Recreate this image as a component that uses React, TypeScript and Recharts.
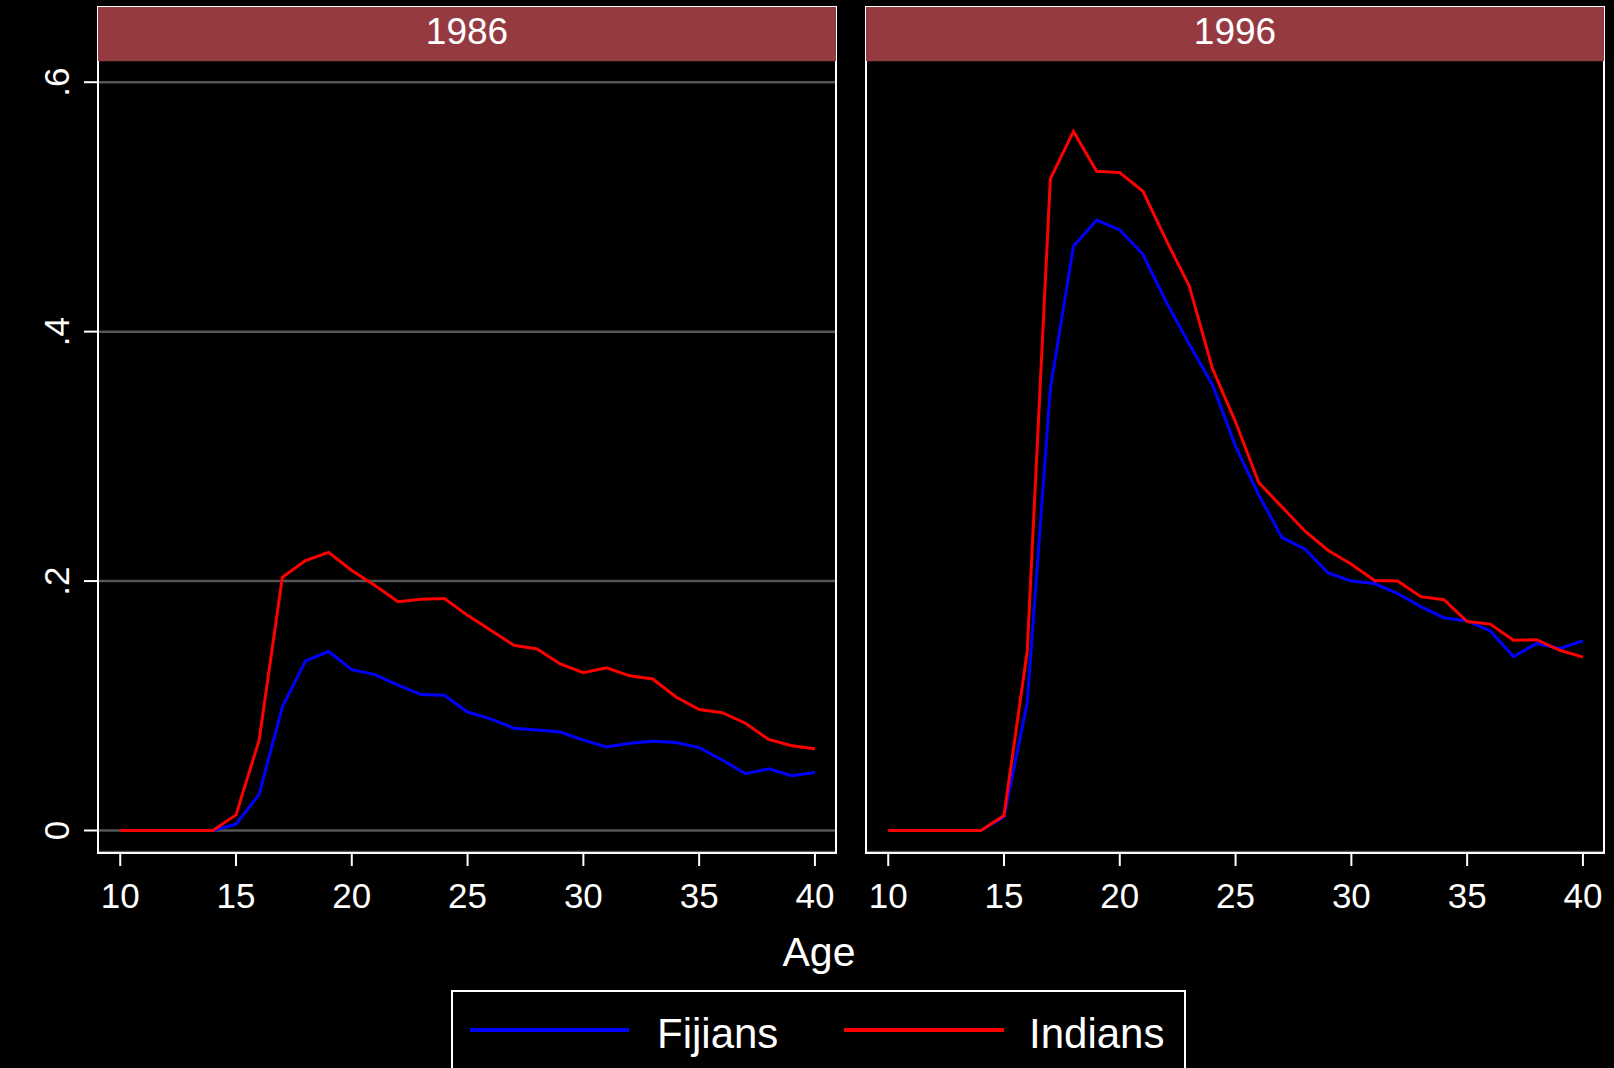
import React from "react";
import { LineChart, Line, XAxis, YAxis, CartesianGrid } from "recharts";

// ages on the x axis
const ages = [10, 11, 12, 13, 14, 15, 16, 17, 18, 19, 20, 21, 22, 23, 24, 25, 26, 27, 28, 29, 30, 31, 32, 33, 34, 35, 36, 37, 38, 39, 40];

// 1986 panel
const fijians1986 = [0, 0, 0, 0, 0, 0.005, 0.029, 0.099, 0.136, 0.1435, 0.129, 0.125, 0.1165, 0.109, 0.1085, 0.095, 0.0895, 0.082, 0.0805, 0.079, 0.0725, 0.067, 0.07, 0.0715, 0.0705, 0.0665, 0.0565, 0.0455, 0.0495, 0.044, 0.0465];
const indians1986 = [0, 0, 0, 0, 0, 0.0125, 0.0725, 0.203, 0.2165, 0.223, 0.2085, 0.1965, 0.1835, 0.1855, 0.186, 0.1725, 0.1605, 0.1485, 0.1455, 0.1335, 0.1265, 0.1305, 0.124, 0.1215, 0.107, 0.097, 0.0945, 0.086, 0.073, 0.068, 0.0655];

// 1996 panel
const fijians1996 = [0, 0, 0, 0, 0, 0.011, 0.102, 0.354, 0.4685, 0.4895, 0.4815, 0.462, 0.424, 0.39, 0.3575, 0.308, 0.269, 0.235, 0.2255, 0.2065, 0.2, 0.198, 0.19, 0.1795, 0.1705, 0.168, 0.16, 0.1395, 0.15, 0.146, 0.152];
const indians1996 = [0, 0, 0, 0, 0, 0.012, 0.1435, 0.5225, 0.5605, 0.5285, 0.5275, 0.5125, 0.4735, 0.4365, 0.3705, 0.3275, 0.279, 0.2595, 0.24, 0.2245, 0.2135, 0.2005, 0.2, 0.1875, 0.185, 0.1675, 0.1655, 0.1525, 0.153, 0.1445, 0.139];

const xTicks = [10, 15, 20, 25, 30, 35, 40];
const yTicks = [0, 0.2, 0.4, 0.6];
const yLabels = ["0", ".2", ".4", ".6"];

const FONT = '"Liberation Sans", Arial, Helvetica, sans-serif';
const STRIP = "#953a41";
const GRID = "#555555";

const rows = (f: number[], i: number[]) => ages.map((age, k) => ({ age, fijians: f[k], indians: i[k] }));

const XTick = (props: any) => {
  const { x, y, payload } = props;
  return (
    <text x={x} y={y + 40} textAnchor="middle" fill="#fff" fontSize={35} fontFamily={FONT}>
      {payload.value}
    </text>
  );
};

const YTick = (props: any) => {
  const { x, y, payload } = props;
  const idx = yTicks.indexOf(payload.value);
  const tx = x - 13;
  return (
    <text x={tx} y={y} transform={`rotate(-90 ${tx} ${y})`} textAnchor="middle" fill="#fff" fontSize={35} fontFamily={FONT}>
      {idx >= 0 ? yLabels[idx] : payload.value}
    </text>
  );
};

function Panel({ title, data, left, showY }: { title: string; data: any[]; left: number; showY: boolean }) {
  const width = showY ? 850 : 762;
  const plotLeft = showY ? 98 : 14;
  return (
    <div style={{ position: "absolute", left, top: 0, width, height: 940 }}>
      <LineChart width={width} height={940} data={data} margin={{ top: 60, right: showY ? 14 : 10, bottom: 0, left: 0 }}>
        <CartesianGrid vertical={false} stroke={GRID} strokeWidth={2.5} />
        <XAxis
          dataKey="age"
          type="number"
          domain={[9.04, 40.91]}
          ticks={xTicks}
          allowDataOverflow
          height={88}
          axisLine={false}
          tickSize={14}
          tickLine={{ stroke: "#fff", strokeWidth: 2 }}
          tick={<XTick />}
        />
        <YAxis
          type="number"
          domain={[-0.01724, 0.6178]}
          ticks={yTicks}
          allowDataOverflow
          width={plotLeft}
          axisLine={false}
          tickSize={14}
          tickLine={showY ? { stroke: "#fff", strokeWidth: 2 } : false}
          tick={showY ? <YTick /> : false}
        />
        <Line dataKey="fijians" stroke="#0000ff" strokeWidth={3} dot={false} isAnimationActive={false} />
        <Line dataKey="indians" stroke="#ff0000" strokeWidth={3} dot={false} isAnimationActive={false} />
      </LineChart>
      {/* plot frame */}
      <div
        style={{
          position: "absolute",
          left: plotLeft - 1,
          top: 59,
          width: 740,
          height: 795,
          border: "2px solid #fff",
          boxSizing: "border-box",
          pointerEvents: "none",
        }}
      />
      {/* facet strip */}
      <div
        style={{
          position: "absolute",
          left: plotLeft - 1,
          top: 6,
          width: 740,
          height: 55,
          background: STRIP,
          border: "1.5px solid #fff",
          borderBottom: "none",
          boxSizing: "border-box",
          color: "#fff",
          fontFamily: FONT,
          fontSize: 37,
          lineHeight: "50px",
          textAlign: "center",
        }}
      >
        {title}
      </div>
    </div>
  );
}

export default function App() {
  return (
    <div style={{ position: "fixed", left: 0, top: 0, width: 1614, height: 1068, background: "#000", overflow: "hidden" }}>
      <Panel title="1986" data={rows(fijians1986, indians1986)} left={0} showY />
      <Panel title="1996" data={rows(fijians1996, indians1996)} left={852} showY={false} />
      <svg width={1614} height={1068} style={{ position: "absolute", left: 0, top: 0, pointerEvents: "none" }}>
        <text x={819} y={966} textAnchor="middle" fill="#fff" fontSize={41} fontFamily={FONT}>
          Age
        </text>
        <rect x={452} y={991} width={733} height={90} fill="none" stroke="#fff" strokeWidth={2} />
        <line x1={470} y1={1030} x2={629} y2={1030} stroke="#0000ff" strokeWidth={4} />
        <text x={657} y={1048} fill="#fff" fontSize={42} fontFamily={FONT}>
          Fijians
        </text>
        <line x1={844} y1={1030} x2={1004} y2={1030} stroke="#ff0000" strokeWidth={4} />
        <text x={1029} y={1048} fill="#fff" fontSize={42} fontFamily={FONT}>
          Indians
        </text>
      </svg>
    </div>
  );
}
